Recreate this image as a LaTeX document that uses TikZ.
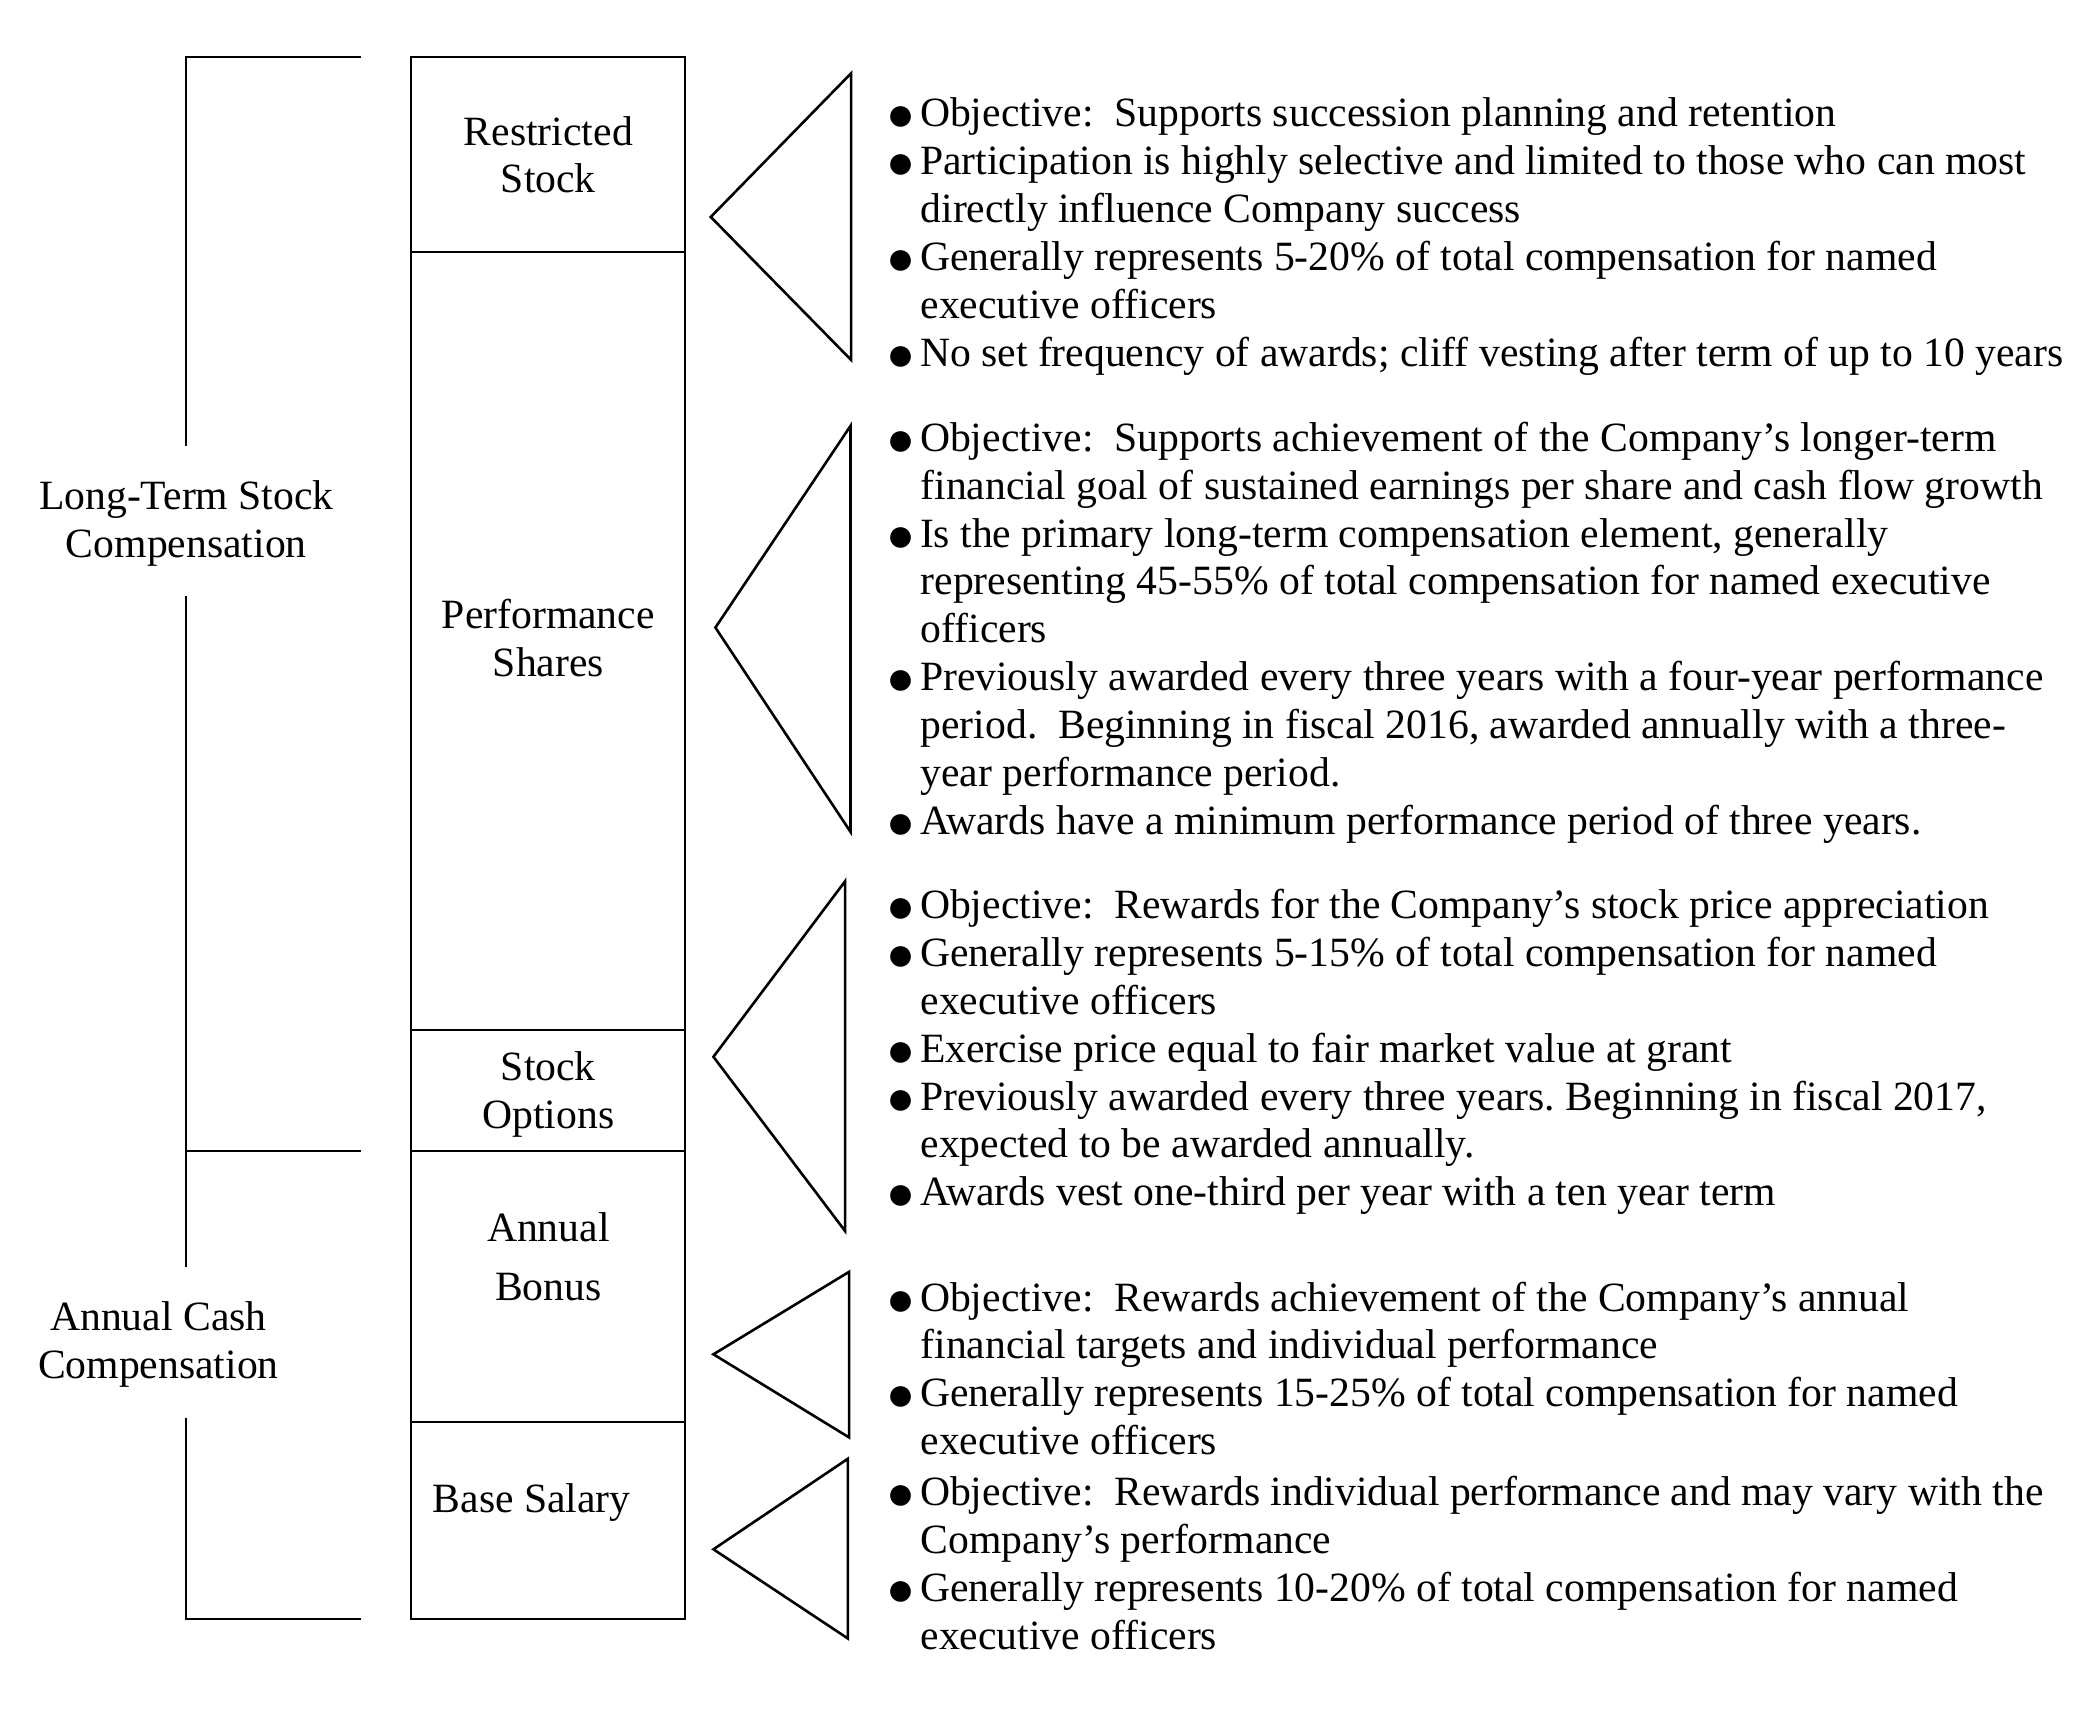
\documentclass[tikz,border=0pt]{standalone}
\usepackage{fontspec}
\setmainfont{Liberation Serif}
\usetikzlibrary{fit}
\frenchspacing
\newcommand\bfnt{\fontsize{20.83pt}{23.96pt}\selectfont}
\newcommand\bl{\makebox[16.6pt][l]{\raisebox{-2pt}{\fontsize{24pt}{24pt}\selectfont ●}}}
\newcommand\cl{\hspace*{16.9pt}}
\newcommand\twol[2]{\parbox[t]{200pt}{\centering #1\\#2}}
\tikzset{
  blk/.style={anchor=base west, inner sep=0pt, font=\bfnt},
  lab/.style={anchor=base, inner sep=0pt, font=\bfnt},
  cell/.style={draw, line width=1pt, inner sep=0pt},
  tri/.style={draw, line width=1.3pt, line join=miter},
  brk/.style={draw, line width=1pt},
}
\begin{document}
\begin{tikzpicture}[x=0.6655pt, y=-0.6655pt]
\useasboundingbox[fill=white] (0,0) rectangle (1568,1293);

% bracket lines
\draw[brk] (271,43) -- (140,43) -- (140,335);
\draw[brk] (140,448) -- (140,952);
\draw[brk] (140,864.5) -- (271,864.5);
\draw[brk] (140,1065) -- (140,1216) -- (271,1216);

% column cells
\node[cell, fit={(309,43) (515,189)}] (rs) {};
\node[cell, fit={(309,189) (515,774)}] (ps) {};
\node[cell, fit={(309,774) (515,864.5)}] (so) {};
\node[cell, fit={(309,864.5) (515,1068)}] (ab) {};
\node[cell, fit={(309,1068) (515,1216)}] (bs) {};

% cell labels
\node[lab] (lrs) at (412,109) {\twol{Restricted}{Stock}};
\node[lab] (lps) at (412,472) {\twol{Performance}{Shares}};
\node[lab] (lso) at (412,812) {\twol{Stock}{Options}};
\node[lab] (lab) at (412,932.5) {\parbox[t]{200pt}{\centering Annual\\[5.7pt]Bonus}};
\node[lab] (lbs) at (399.5,1136) {Base Salary};

% group labels
\node[lab] (glt) at (140,383) {\twol{Long-Term Stock}{Compensation}};
\node[lab] (gac) at (119,999.5) {\twol{Annual Cash}{Compensation}};

% triangles
\draw[tri] (534,163) -- (639.5,55) -- (639.5,270.5) -- cycle;
\draw[tri] (537.5,471.5) -- (639,320) -- (639,625) -- cycle;
\draw[tri] (536,794) -- (635,662) -- (635,925) -- cycle;
\draw[tri] (536,1017.5) -- (638,955.5) -- (638,1080) -- cycle;
\draw[tri] (536,1164) -- (637,1096) -- (637,1231) -- cycle;

% text blocks
\node[blk] (t1) at (666,95) {\parbox[t]{640pt}{\raggedright
\bl Objective:~~Supports succession planning and retention\\
\bl Participation is highly selective and limited to those who can most\\
\cl directly influence Company success\\
\bl Generally represents 5-20\% of total compensation for named\\
\cl executive officers\\
\bl No set frequency of awards; cliff vesting after term of up to 10 years}};

\node[blk] (t2) at (666,339) {\parbox[t]{640pt}{\raggedright
\bl Objective:~~Supports achievement of the Company’s longer-term\\
\cl financial goal of sustained earnings per share and cash flow growth\\
\bl Is the primary long-term compensation element, generally\\
\cl representing 45-55\% of total compensation for named executive\\
\cl officers\\
\bl Previously awarded every three years with a four-year performance\\
\cl period.~~Beginning in fiscal 2016, awarded annually with a three-\\
\cl year performance period.\\
\bl Awards have a minimum performance period of three years.}};

\node[blk] (t3) at (666,690) {\parbox[t]{640pt}{\raggedright
\bl Objective:~~Rewards for the Company’s stock price appreciation\\
\bl Generally represents 5-15\% of total compensation for named\\
\cl executive officers\\
\bl Exercise price equal to fair market value at grant\\
\bl Previously awarded every three years. Beginning in fiscal 2017,\\
\cl expected to be awarded annually.\\
\bl Awards vest one-third per year with a ten year term}};

\node[blk] (t4) at (666,985) {\parbox[t]{640pt}{\raggedright
\bl Objective:~~Rewards achievement of the Company’s annual\\
\cl financial targets and individual performance\\
\bl Generally represents 15-25\% of total compensation for named\\
\cl executive officers}};

\node[blk] (t5) at (666,1131) {\parbox[t]{640pt}{\raggedright
\bl Objective:~~Rewards individual performance and may vary with the\\
\cl Company’s performance\\
\bl Generally represents 10-20\% of total compensation for named\\
\cl executive officers}};
\end{tikzpicture}
\end{document}
